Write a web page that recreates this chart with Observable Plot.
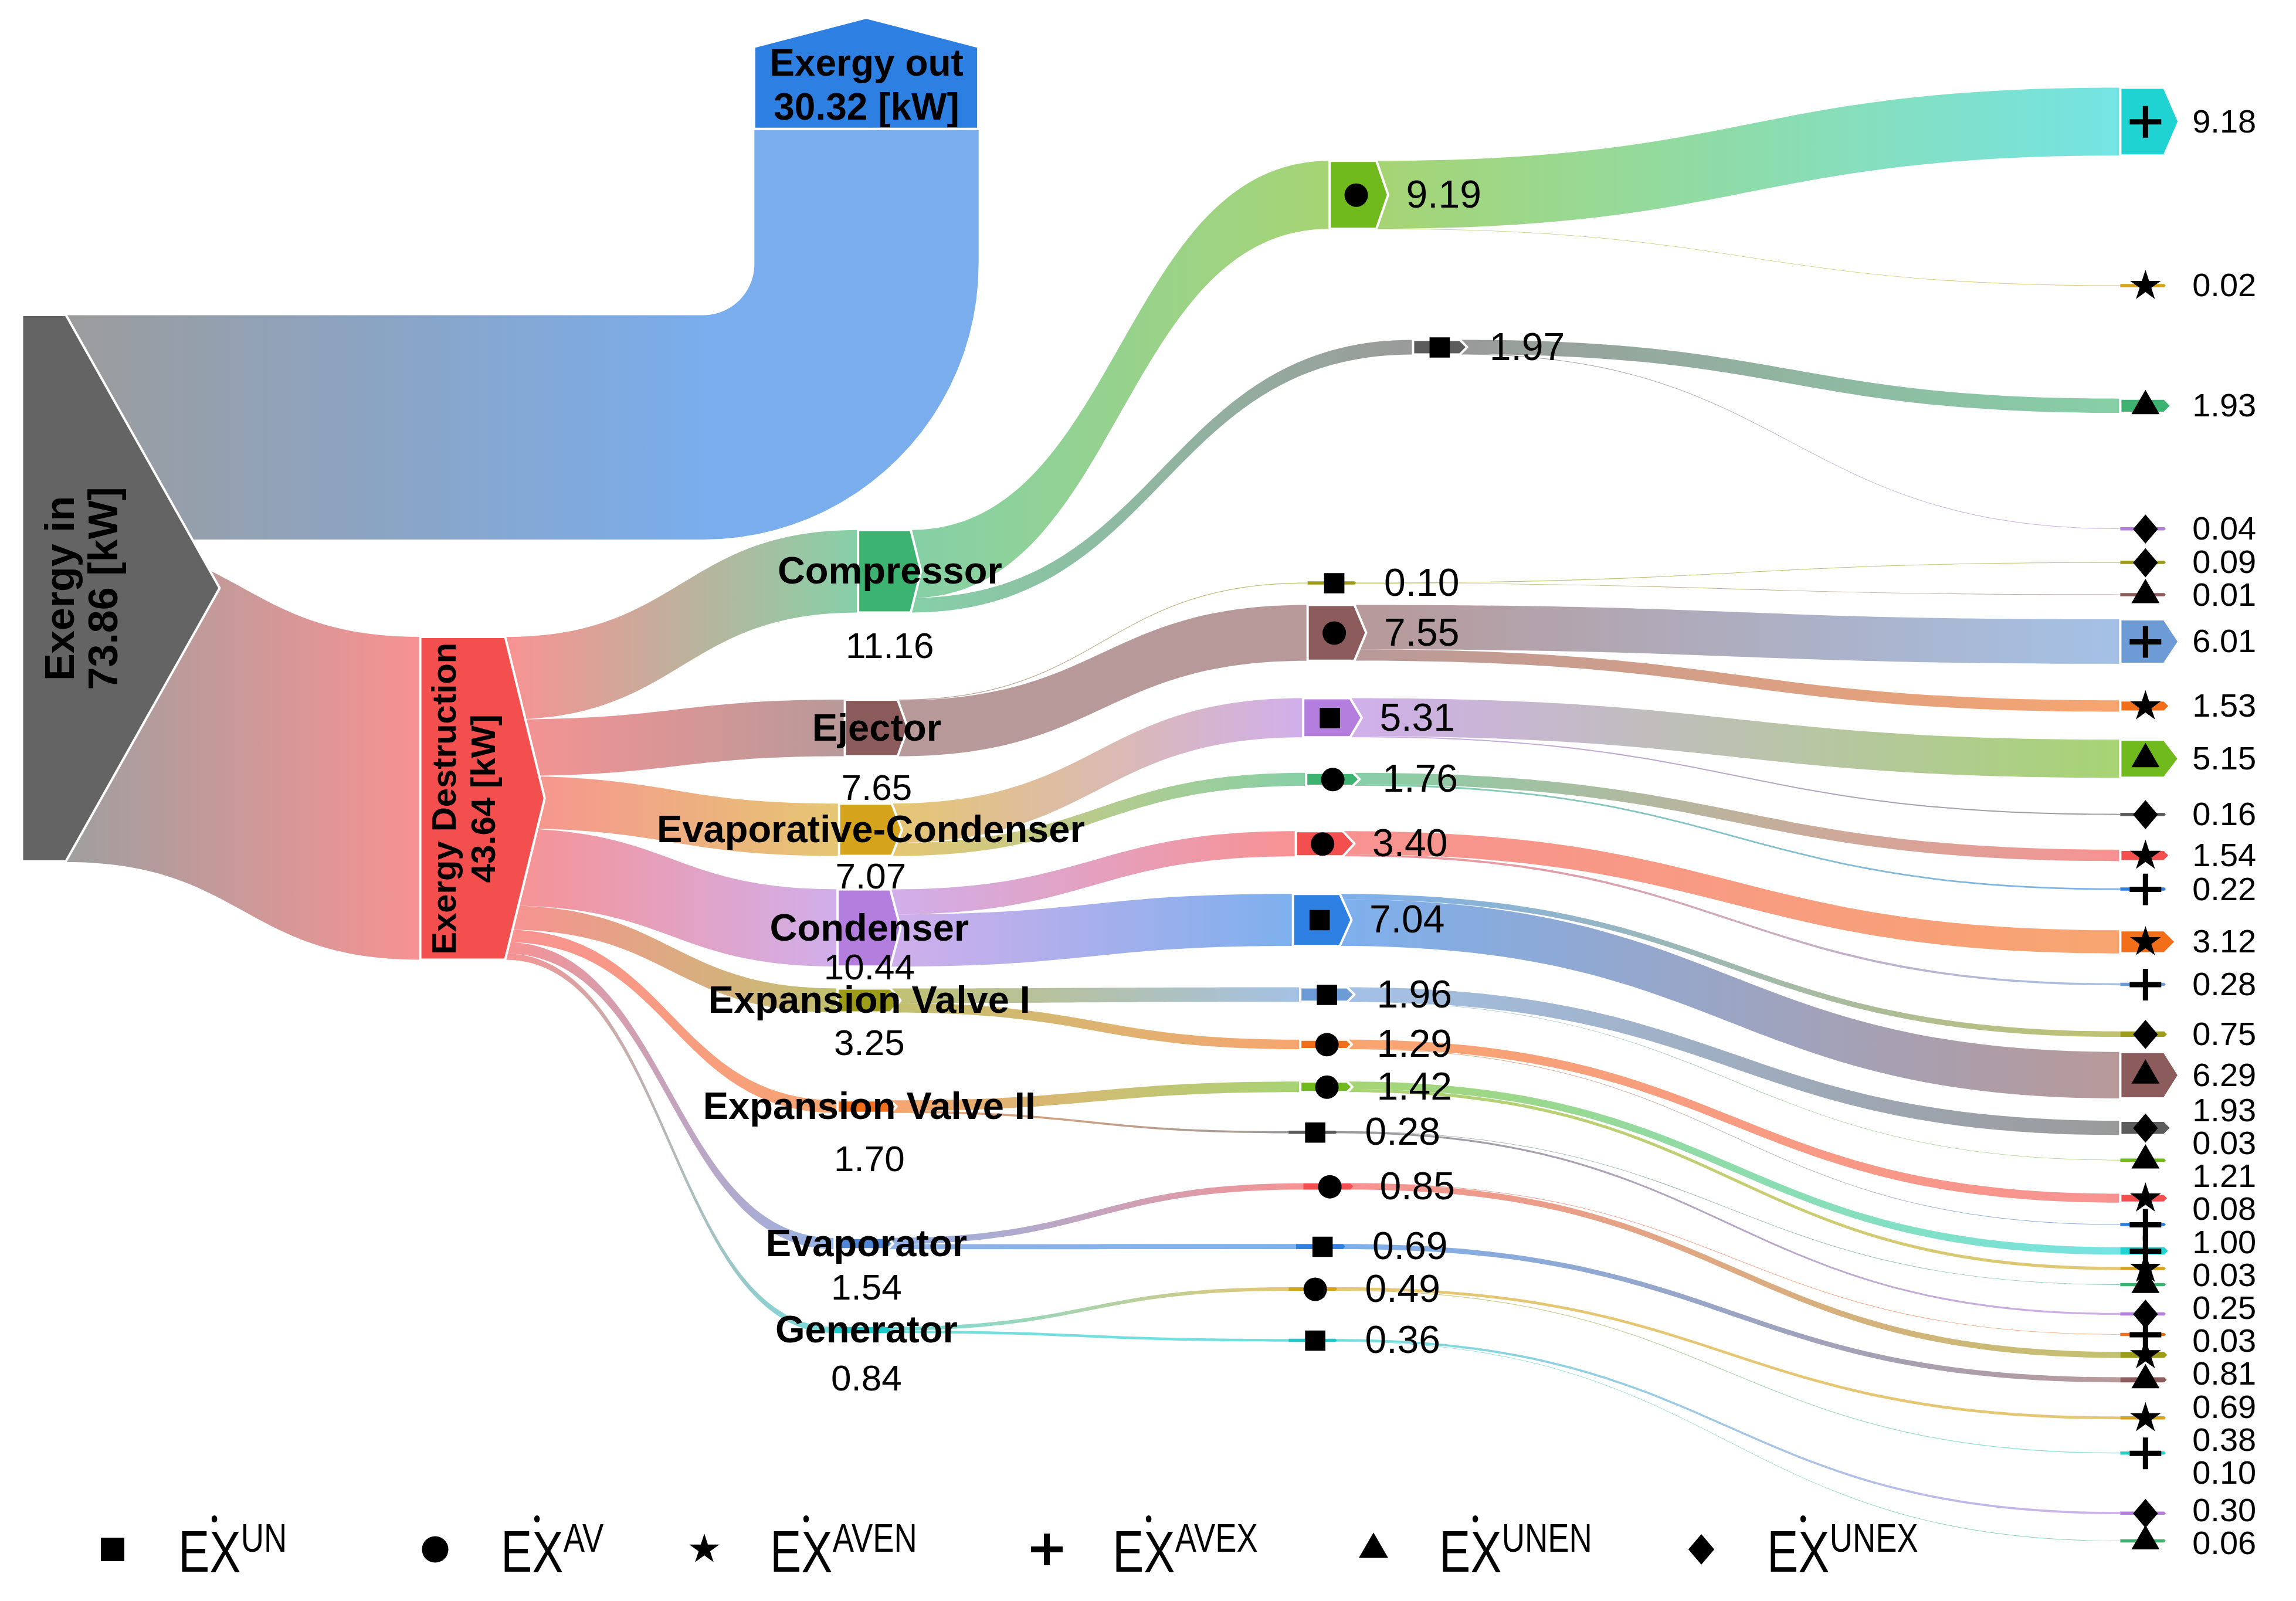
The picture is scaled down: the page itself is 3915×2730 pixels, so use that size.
<!DOCTYPE html>
<html>
<head>
<meta charset="utf-8">
<script src="https://cdn.jsdelivr.net/npm/d3@7"></script>
<script src="https://cdn.jsdelivr.net/npm/@observablehq/plot@0.6"></script>
<style>
  html, body { margin: 0; padding: 0; background: #fff; overflow: hidden; }
  #wrap { position: relative; width: 3915px; height: 2730px; font-family: "Liberation Sans", Arial, sans-serif; }
  #legend { position: absolute; left: 152px; top: 2572px; height: 140px; display: flex; align-items: center; }
  .item { display: flex; align-items: center; flex: none; }
  .ex { font-size: 100px; line-height: 1; display: inline-block; transform: scaleX(0.8); transform-origin: left center; white-space: nowrap; color: #000; }
  .ex sup { font-size: 68px; }
  .xd { position: relative; }
  .xd i { position: absolute; left: 4px; top: -6px; width: 12px; height: 12px; border-radius: 50%; background: #000; }
</style>
</head>
<body>
<div id="wrap"><div id="chart"></div><div id="legend"></div></div>
<script>
// ---------------- DATA (kW) ----------------
const inLabel = "Exergy in";
const outLabel = "Exergy out";
const destructionLabel = "Exergy Destruction";
const totalIn = 73.86;
const totalOut = 30.32;
const totalDestruction = 43.64;

const components = ["Compressor", "Ejector", "Evaporative-Condenser", "Condenser",
  "Expansion Valve I", "Expansion Valve II", "Evaporator", "Generator"];
const componentDestruction = [11.16, 7.65, 7.07, 10.44, 3.25, 1.70, 1.54, 0.84];
const exUN   = [1.97, 0.10, 5.31, 7.04, 1.96, 0.28, 0.69, 0.36];
const exAV   = [9.19, 7.55, 1.76, 3.40, 1.29, 1.42, 0.85, 0.49];
const exAVEN = [0.02, 1.53, 1.54, 3.12, 1.21, 0.42, 0.81, 0.38];
const exAVEX = [9.18, 6.01, 0.22, 0.28, 0.08, 1.00, 0.03, 0.10];
const exUNEN = [1.93, 0.01, 5.15, 6.29, 0.03, 0.03, 0.69, 0.06];
const exUNEX = [0.04, 0.09, 0.16, 0.75, 1.93, 0.25, null, 0.30];
const hiddenLabels = ["Expansion Valve II|AVEN"];
const legendKeys = ["UN", "AV", "AVEN", "AVEX", "UNEN", "UNEX"];

// ---------------- LAYOUT (design frame units) ----------------
const L = {
  frame: {width: 1568, height: 1093},
  k: 5.05,
  inNode: {x0: 15, w: 30, tip: 105, yc: 401.5},
  destruction: {x0: 287, w: 58, tip: 27, yc: 545},
  outNode: {x0: 515, bottom: 88, box: 56, tip: 20, radius: 35},
  col2: {w: 36, tip: 7,
    x0: [586, 577, 573, 572, 572, 572, 570, 570],
    yc: [390, 497, 566.5, 633.5, 683, 755.5, 849, 908],
    valueDy: [51, 41, 32, 27, 29, 36, 30, 33]},
  col3: {w: 32, tip: 8,
    x0: {UN: [965, 893, 890, 883, 888, 880, 885, 880], AV: [908, 893, 892, 885, 888, 888, 890, 880]},
    yc: {UN: [237, 398, 490, 628, 679, 773, 851, 915], AV: [133, 432, 532, 576, 713, 742, 810, 880]}},
  col4: {x0: 1448, w: 30, tip: 10,
    yc: {AVEN: [195, 482, 584, 643, 818, 866, 925, 968],
         AVEX: [83, 438, 607, 672, 836, 854, 911, 992],
         UNEN: [277, 406, 518, 734, 792, 877, 942, 1052],
         UNEX: [361, 384, 556, 706, 770, 897, null, 1033]}},
  labelGap: 12, col4LabelGap: 9, col4LabelSpacing: 22.5, col4LabelMax: 1056,
  minLink: 0.35, minNode: 2.2
};

// ---------------- STYLE ----------------
const C = {gray: "#646464", blue: "#2e7fe2", red: "#f34f4f", green: "#3cb371", brown: "#8c5b5b",
  gold: "#d6a31c", purple: "#b47edf", olive: "#9c9c18", orange: "#f36e18", evapBlue: "#4f86d8",
  cyan: "#1dcaca", lime: "#70ba1e", dgray: "#5c5c5c", steel: "#6c9bd6", cyan2: "#1fd3d3"};
const nodeColors = {
  in: C.gray, out: C.blue, destruction: C.red,
  components: [C.green, C.brown, C.gold, C.purple, C.olive, C.orange, C.evapBlue, C.cyan],
  UN: [C.dgray, C.olive, C.purple, C.blue, C.steel, C.dgray, C.blue, C.cyan],
  AV: [C.lime, C.brown, C.green, C.red, C.orange, C.lime, C.red, C.gold],
  AVEN: [C.gold, C.orange, C.red, C.orange, C.red, C.gold, C.olive, C.gold],
  AVEX: [C.cyan2, C.steel, C.blue, C.steel, C.blue, C.cyan2, C.orange, C.cyan2],
  UNEN: [C.green, C.brown, C.lime, C.brown, C.lime, C.green, C.brown, C.green],
  UNEX: [C.purple, C.olive, C.dgray, C.olive, C.dgray, C.purple, null, C.purple]
};
const FONT = "Liberation Sans, Arial, sans-serif";
const fs = {inLabel: 70, destruction: 58, out: 64, compName: 65, compValue: 62, col3: 66, col4: 56};
// a rhombus a little narrower than it is tall
const rhombus = {draw(ctx, size) {
  const h = Math.sqrt(size / 0.425), w = 0.85 * h;
  ctx.moveTo(0, -h / 2); ctx.lineTo(w / 2, 0); ctx.lineTo(0, h / 2); ctx.lineTo(-w / 2, 0); ctx.closePath();
}};

// ---------------- BUILD GRAPH ----------------
const K = L.k;
const nodes = new Map();
const links = [];
function node(id, props) { const n = {id, out: [], in: [], ...props}; nodes.set(id, n); return n; }
function link(source, target, value) {
  if (value == null) return;
  const l = {source, target, value, i: links.length};
  links.push(l); nodes.get(source).out.push(l); nodes.get(target).in.push(l);
}
node("in", {value: totalIn, ...L.inNode, color: nodeColors.in});
node("out", {value: totalOut, x0: L.outNode.x0, w: totalOut * K, yc: L.outNode.bottom - L.outNode.box / 2, color: nodeColors.out});
node("destruction", {value: totalDestruction, ...L.destruction, color: nodeColors.destruction});
const subKeys = [["AVEN", "AV", exAVEN], ["AVEX", "AV", exAVEX], ["UNEN", "UN", exUNEN], ["UNEX", "UN", exUNEX]];
components.forEach((c, i) => {
  node(c, {value: componentDestruction[i], col: 2, name: c, x0: L.col2.x0[i], w: L.col2.w, tip: L.col2.tip,
    yc: L.col2.yc[i], valueDy: L.col2.valueDy[i], color: nodeColors.components[i]});
  for (const [key, vals] of [["UN", exUN], ["AV", exAV]]) {
    node(`${c}|${key}`, {value: vals[i], col: 3, key, x0: L.col3.x0[key][i], w: L.col3.w, tip: L.col3.tip,
      yc: L.col3.yc[key][i], color: nodeColors[key][i]});
  }
  for (const [key, , vals] of subKeys) {
    if (vals[i] == null) continue;
    node(`${c}|${key}`, {value: vals[i], col: 4, key, x0: L.col4.x0, w: L.col4.w, tip: L.col4.tip,
      yc: L.col4.yc[key][i], color: nodeColors[key][i], showLabel: !hiddenLabels.includes(`${c}|${key}`)});
  }
});
link("in", "out", totalOut);
link("in", "destruction", totalDestruction);
components.forEach((c, i) => {
  link("destruction", c, componentDestruction[i]);
  link(c, `${c}|UN`, exUN[i]);
  link(c, `${c}|AV`, exAV[i]);
  for (const [key, parent, vals] of subKeys) link(`${c}|${parent}`, `${c}|${key}`, vals[i]);
});

// stack links on each node, ordered by the vertical position of the other end
for (const n of nodes.values()) {
  const top = n.yc - n.value * K / 2;
  let o = top;
  [...n.out].sort((a, b) => nodes.get(a.target).yc - nodes.get(b.target).yc)
    .forEach(l => { l.sy0 = o; o += l.value * K; l.sy1 = o; });
  o = top;
  [...n.in].sort((a, b) => nodes.get(a.source).yc - nodes.get(b.source).yc)
    .forEach(l => { l.ty0 = o; o += l.value * K; l.ty1 = o; });
}

function band(y0, y1) {
  if (y1 - y0 >= L.minLink) return [y0, y1];
  const m = (y0 + y1) / 2; return [m - L.minLink / 2, m + L.minLink / 2];
}
const linkPts = links.filter(l => l.target !== "out").flatMap(l => {
  const s = nodes.get(l.source), t = nodes.get(l.target);
  const [a0, a1] = band(l.sy0, l.sy1), [b0, b1] = band(l.ty0, l.ty1);
  const fill = `url(#lg${l.i})`;
  return [{id: l.i, x: s.x0 + s.w, y1: a0, y2: a1, fill}, {id: l.i, x: t.x0, y1: b0, y2: b1, fill}];
});

// elbow link: Exergy in -> Exergy out (turns upward)
const inN = nodes.get("in"), outN = nodes.get("out");
const elbowLink = links.find(l => l.target === "out");
const eW = elbowLink.value * K;
const r = L.outNode.radius, R = r + eW;
const ecx = outN.x0 - r, ecy = elbowLink.sy0 - r;
const elbow = [{x: inN.x0 + inN.w, y: elbowLink.sy0}];
for (let j = 0; j <= 24; j++) { const th = Math.PI / 2 * (1 - j / 24); elbow.push({x: ecx + r * Math.cos(th), y: ecy + r * Math.sin(th)}); }
elbow.push({x: outN.x0, y: L.outNode.bottom}, {x: outN.x0 + eW, y: L.outNode.bottom});
for (let j = 0; j <= 24; j++) { const th = Math.PI / 2 * (j / 24); elbow.push({x: ecx + R * Math.cos(th), y: ecy + R * Math.sin(th)}); }
elbow.push({x: inN.x0 + inN.w, y: elbowLink.sy1});
const elbowBlueAt = (ecx - (inN.x0 + inN.w)) / (outN.x0 + eW - (inN.x0 + inN.w));

// node shapes
const shapes = [];
for (const n of nodes.values()) {
  if (n.id === "out") {
    const b = L.outNode.bottom, t = b - L.outNode.box;
    shapes.push({id: n.id, x: n.x0, y1: b, y2: t, fill: n.color, big: true},
      {id: n.id, x: n.x0 + n.w / 2, y1: b, y2: t - L.outNode.tip, fill: n.color, big: true},
      {id: n.id, x: n.x0 + n.w, y1: b, y2: t, fill: n.color, big: true});
    continue;
  }
  const h = Math.max(n.value * K, L.minNode);
  const tip = Math.min(n.tip, h * 0.5);
  const big = h > 6;
  const y0 = n.yc - h / 2, y1 = n.yc + h / 2;
  shapes.push({id: n.id, x: n.x0, y1: y0, y2: y1, fill: n.color, big},
    {id: n.id, x: n.x0 + n.w, y1: y0, y2: y1, fill: n.color, big},
    {id: n.id, x: n.x0 + n.w + tip, y1: n.yc, y2: n.yc, fill: n.color, big});
}

const all = [...nodes.values()];
const col2 = all.filter(n => n.col === 2);
const col3 = all.filter(n => n.col === 3);
const col4 = all.filter(n => n.col === 4);

// col4 value labels: spread apart so they keep a minimum vertical spacing
const lab = col4.filter(n => n.showLabel).sort((a, b) => a.yc - b.yc);
lab.forEach(n => { n.ly = n.yc; });
const S = L.col4LabelSpacing;
for (let it = 0; it < 300; it++) {
  for (let j = 1; j < lab.length; j++) {
    const a = lab[j - 1], b = lab[j], gap = b.ly - a.ly;
    if (gap < S) { const d = (S - gap) / 2; a.ly -= d; b.ly += d; }
  }
  const last = lab[lab.length - 1];
  if (last.ly > L.col4LabelMax) last.ly = L.col4LabelMax;
}
for (let j = lab.length - 2; j >= 0; j--) lab[j].ly = Math.min(lab[j].ly, lab[j + 1].ly - S);

const markX = n => n.x0 + n.w / 2 + 2;
const byKey = (arr, key) => arr.filter(n => n.key === key);

// ---------------- PLOT ----------------
const W = 3915, H = 2730;
const chart = Plot.plot({
  width: W, height: H, margin: 0,
  x: {domain: [0, L.frame.width], range: [0, W], axis: null},
  y: {domain: [0, L.frame.height], range: [0, H], axis: null},
  color: {type: "identity"},
  style: {fontFamily: FONT, background: "#fff"},
  marks: [
    Plot.line(elbow, {x: "x", y: "y", fill: "url(#lgElbow)", stroke: "none", fillOpacity: 0.64, curve: "linear"}),
    Plot.areaY(linkPts, {x: "x", y1: "y1", y2: "y2", z: "id", fill: "fill", fillOpacity: 0.62, curve: "bump-x"}),
    Plot.areaY(shapes.filter(d => d.big), {x: "x", y1: "y1", y2: "y2", z: "id", fill: "fill", stroke: "white", strokeWidth: 4, curve: "linear"}),
    Plot.areaY(shapes.filter(d => !d.big), {x: "x", y1: "y1", y2: "y2", z: "id", fill: "fill", curve: "linear"}),
    // markers
    Plot.dot(byKey(col3, "AV"), {x: markX, y: "yc", r: 20, symbol: "circle", fill: "black"}),
    Plot.dot(byKey(col3, "UN"), {x: markX, y: "yc", r: 19.5, symbol: "square", fill: "black"}),
    Plot.dot(byKey(col4, "AVEN"), {x: markX, y: "yc", r: 16.5, symbol: "star", fill: "black"}),
    Plot.dot(byKey(col4, "AVEX"), {x: markX, y: "yc", r: 17.4, symbol: "plus", stroke: "black", strokeWidth: 9, strokeLinecap: "butt"}),
    Plot.dot(byKey(col4, "UNEN"), {x: markX, y: "yc", r: 17.8, symbol: "triangle", fill: "black"}),
    Plot.dot(byKey(col4, "UNEX"), {x: markX, y: "yc", r: 18.3, symbol: rhombus, fill: "black"}),
    // main labels
    Plot.text([inN], {x: d => d.x0 + 0.3 * (d.w + d.tip), y: "yc", text: d => `${inLabel}\n${d.value.toFixed(2)} [kW]`,
      rotate: -90, fontSize: fs.inLabel, fontWeight: "bold", lineHeight: 1.07, fill: "black", fontFamily: FONT}),
    Plot.text([nodes.get("destruction")], {x: d => d.x0 + d.w / 2, y: "yc", text: d => `${destructionLabel}\n${d.value.toFixed(2)} [kW]`,
      rotate: -90, fontSize: fs.destruction, fontWeight: "bold", lineHeight: 1.15, fill: "black", fontFamily: FONT}),
    Plot.text([outN], {x: d => d.x0 + d.w / 2, y: d => L.outNode.bottom - L.outNode.box / 2 - 3, text: d => `${outLabel}\n${d.value.toFixed(2)} [kW]`,
      fontSize: fs.out, fontWeight: "bold", lineHeight: 1.17, fill: "black", fontFamily: FONT}),
    // component labels
    Plot.text(col2, {x: d => d.x0 + (d.w + d.tip) / 2, y: "yc", text: "name", fontSize: fs.compName, fontWeight: "bold", fill: "black", fontFamily: FONT}),
    Plot.text(col2, {x: d => d.x0 + (d.w + d.tip) / 2, y: d => d.yc + d.valueDy, text: d => d.value.toFixed(2), fontSize: fs.compValue, fill: "black", fontFamily: FONT}),
    Plot.text(col3, {x: d => d.x0 + d.w + d.tip + L.labelGap, y: "yc", text: d => d.value.toFixed(2), textAnchor: "start", fontSize: fs.col3, fill: "black", fontFamily: FONT}),
    Plot.text(lab, {x: d => d.x0 + d.w + d.tip + L.col4LabelGap, y: "ly", text: d => d.value.toFixed(2), textAnchor: "start", fontSize: fs.col4, fill: "black", fontFamily: FONT})
  ]
});

// gradients for the flows (source colour -> target colour)
const NS = "http://www.w3.org/2000/svg";
const defs = document.createElementNS(NS, "defs");
function gradient(id, stops) {
  const g = document.createElementNS(NS, "linearGradient");
  g.setAttribute("id", id); g.setAttribute("x1", "0"); g.setAttribute("x2", "1"); g.setAttribute("y1", "0"); g.setAttribute("y2", "0");
  for (const [o, c] of stops) {
    const s = document.createElementNS(NS, "stop");
    s.setAttribute("offset", o); s.setAttribute("stop-color", c); g.appendChild(s);
  }
  defs.appendChild(g);
}
links.forEach(l => gradient(`lg${l.i}`, [[0, nodes.get(l.source).color], [1, nodes.get(l.target).color]]));
gradient("lgElbow", [[0, inN.color], [elbowBlueAt, outN.color], [1, outN.color]]);
chart.insertBefore(defs, chart.firstChild);
document.getElementById("chart").appendChild(chart);

// ---------------- LEGEND ----------------
const legendTypes = {UN: d3.symbolSquare, AV: d3.symbolCircle, AVEN: d3.symbolStar, AVEX: d3.symbolPlus, UNEN: d3.symbolTriangle, UNEX: rhombus};
const legendSizes = {UN: 1600, AV: 1600, AVEN: 818, AVEX: 953, UNEN: 1082, UNEX: 1150};
const legendWidths = [550, 459, 584, 557, 559, 560];
const legend = d3.select("#legend");
legendKeys.forEach((key, i) => {
  const item = legend.append("div").attr("class", "item").style("width", legendWidths[i] + "px");
  const svg = item.append("svg").attr("width", 80).attr("height", 80).attr("viewBox", "-40 -40 80 80");
  const p = svg.append("path").attr("d", d3.symbol(legendTypes[key], legendSizes[key])());
  if (key === "AVEX") p.attr("fill", "none").attr("stroke", "black").attr("stroke-width", 10);
  else p.attr("fill", "black");
  const t = item.append("span").attr("class", "ex").style("margin-left", "72px");
  t.html(`E<span class="xd">X<i></i></span><sup>${key}</sup>`);
});
</script>
</body>
</html>
